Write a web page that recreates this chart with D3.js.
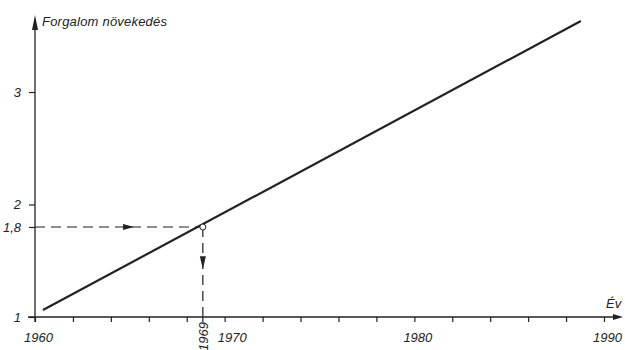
<!DOCTYPE html>
<html>
<head>
<meta charset="utf-8">
<script src="https://cdn.jsdelivr.net/npm/d3@7"></script>
<style>
  html, body { margin: 0; padding: 0; background: #fff; }
  svg { display: block; }
  text { font-family: "Liberation Sans", "DejaVu Sans", sans-serif; font-style: italic; fill: #222; }
</style>
</head>
<body>
<svg id="chart" width="625" height="350"></svg>
<script>
// ---- data ----
const lineYears = [1960.42, 1988.78];
const lineValues = [1.062, 3.631];
const markerYear = 1968.85;
const markerValue = 1.8;
const markerYearLabel = "1969";
const xTickValues = [1960, 1962, 1964, 1966, 1968, 1969, 1970, 1972, 1974, 1976, 1978, 1980, 1982, 1984, 1986, 1988, 1990];
const xTickLabels = ["1960", "1970", "1980", "1990"];
const yTickValues = [1, 1.8, 2, 3];
const yTickLabels = ["1", "1,8", "2", "3"];
const yTitle = "Forgalom növekedés";
const xTitle = "Év";

// ---- layout ----
const ink = "#222";
const svg = d3.select("#chart");
const x = d3.scaleLinear().domain([1960, 1990]).range([35, 604]);
const y = d3.scaleLinear().domain([1, 3]).range([317, 92]);

// x axis ticks
const xAxis = d3.axisBottom(x)
  .tickValues(xTickValues.filter(v => v !== 1969))
  .tickSize(5)
  .tickPadding(11)
  .tickFormat(d => xTickLabels.includes(String(d)) ? String(d) : "");
const gx = svg.append("g").attr("transform", `translate(0,${y(1)})`).call(xAxis);
gx.select(".domain").remove();
gx.selectAll(".tick line").attr("stroke", ink).attr("stroke-width", 1.2);
gx.selectAll(".tick text")
  .attr("font-size", 13)
  .attr("fill", ink)
  .attr("dx", d => d === 1970 ? 7 : 3);

// 1969 tick + rotated label
svg.append("line")
  .attr("x1", x(markerYear)).attr("x2", x(markerYear))
  .attr("y1", y(1)).attr("y2", y(1) + 5)
  .attr("stroke", ink).attr("stroke-width", 1.2);
svg.append("text")
  .attr("transform", `translate(${x(markerYear) + 5},${y(1) + 5}) rotate(-90)`)
  .attr("text-anchor", "end")
  .attr("font-size", 13)
  .text(markerYearLabel);

// y axis ticks
const yAxis = d3.axisLeft(y)
  .tickValues(yTickValues)
  .tickSize(6)
  .tickPadding(8)
  .tickFormat((d, i) => yTickLabels[i]);
const gy = svg.append("g").attr("transform", `translate(${x(1960)},0)`).call(yAxis);
gy.select(".domain").remove();
gy.selectAll(".tick line").attr("stroke", ink).attr("stroke-width", 1.2);
gy.selectAll(".tick text").attr("font-size", 13).attr("fill", ink);

// axis lines with arrows
const x0 = x(1960), y0 = y(1);
const xEnd = x.range()[1] + 19;
const yTop = y(3) - 77;
svg.append("line").attr("x1", x0 - 7).attr("x2", xEnd - 4).attr("y1", y0).attr("y2", y0)
  .attr("stroke", ink).attr("stroke-width", 1.3);
svg.append("line").attr("x1", x0).attr("x2", x0).attr("y1", y0 + 5).attr("y2", yTop + 6)
  .attr("stroke", ink).attr("stroke-width", 1.3);
svg.append("path")
  .attr("d", `M${xEnd},${y0} L${xEnd - 10},${y0 - 3} L${xEnd - 10},${y0 + 3} Z`)
  .attr("fill", ink);
svg.append("path")
  .attr("d", `M${x0},${yTop} L${x0 - 3},${yTop + 15} L${x0 + 3},${yTop + 15} Z`)
  .attr("fill", ink);

// axis titles
svg.append("text").attr("x", x0 + 7).attr("y", yTop + 11)
  .attr("font-size", 13).attr("textLength", 125).text(yTitle);
svg.append("text").attr("x", xEnd - 17).attr("y", y0 - 9)
  .attr("font-size", 13).text(xTitle);

// dashed guides
const mx = x(markerYear), my = y(markerValue);
svg.append("line").attr("x1", x0).attr("x2", mx).attr("y1", my).attr("y2", my)
  .attr("stroke", ink).attr("stroke-width", 1.2).attr("stroke-dasharray", "10,6");
svg.append("line").attr("x1", mx).attr("x2", mx).attr("y1", my).attr("y2", y0)
  .attr("stroke", ink).attr("stroke-width", 1.2).attr("stroke-dasharray", "10,6");
const hx = x0 + (mx - x0) * 0.59;
svg.append("path")
  .attr("d", `M${hx},${my} L${hx - 11},${my - 3} L${hx - 11},${my + 3} Z`)
  .attr("fill", ink);
const vy = my + (y0 - my) * 0.47;
svg.append("path")
  .attr("d", `M${mx},${vy} L${mx - 3},${vy - 13} L${mx + 3},${vy - 13} Z`)
  .attr("fill", ink);

// trend line
const line = d3.line().x(d => x(d[0])).y(d => y(d[1]));
svg.append("path")
  .datum(lineYears.map((yr, i) => [yr, lineValues[i]]))
  .attr("d", line)
  .attr("fill", "none").attr("stroke", ink).attr("stroke-width", 2.2);

// marker
svg.append("circle").attr("cx", mx).attr("cy", my).attr("r", 3)
  .attr("fill", "#fff").attr("stroke", ink).attr("stroke-width", 1);
</script>
</body>
</html>
